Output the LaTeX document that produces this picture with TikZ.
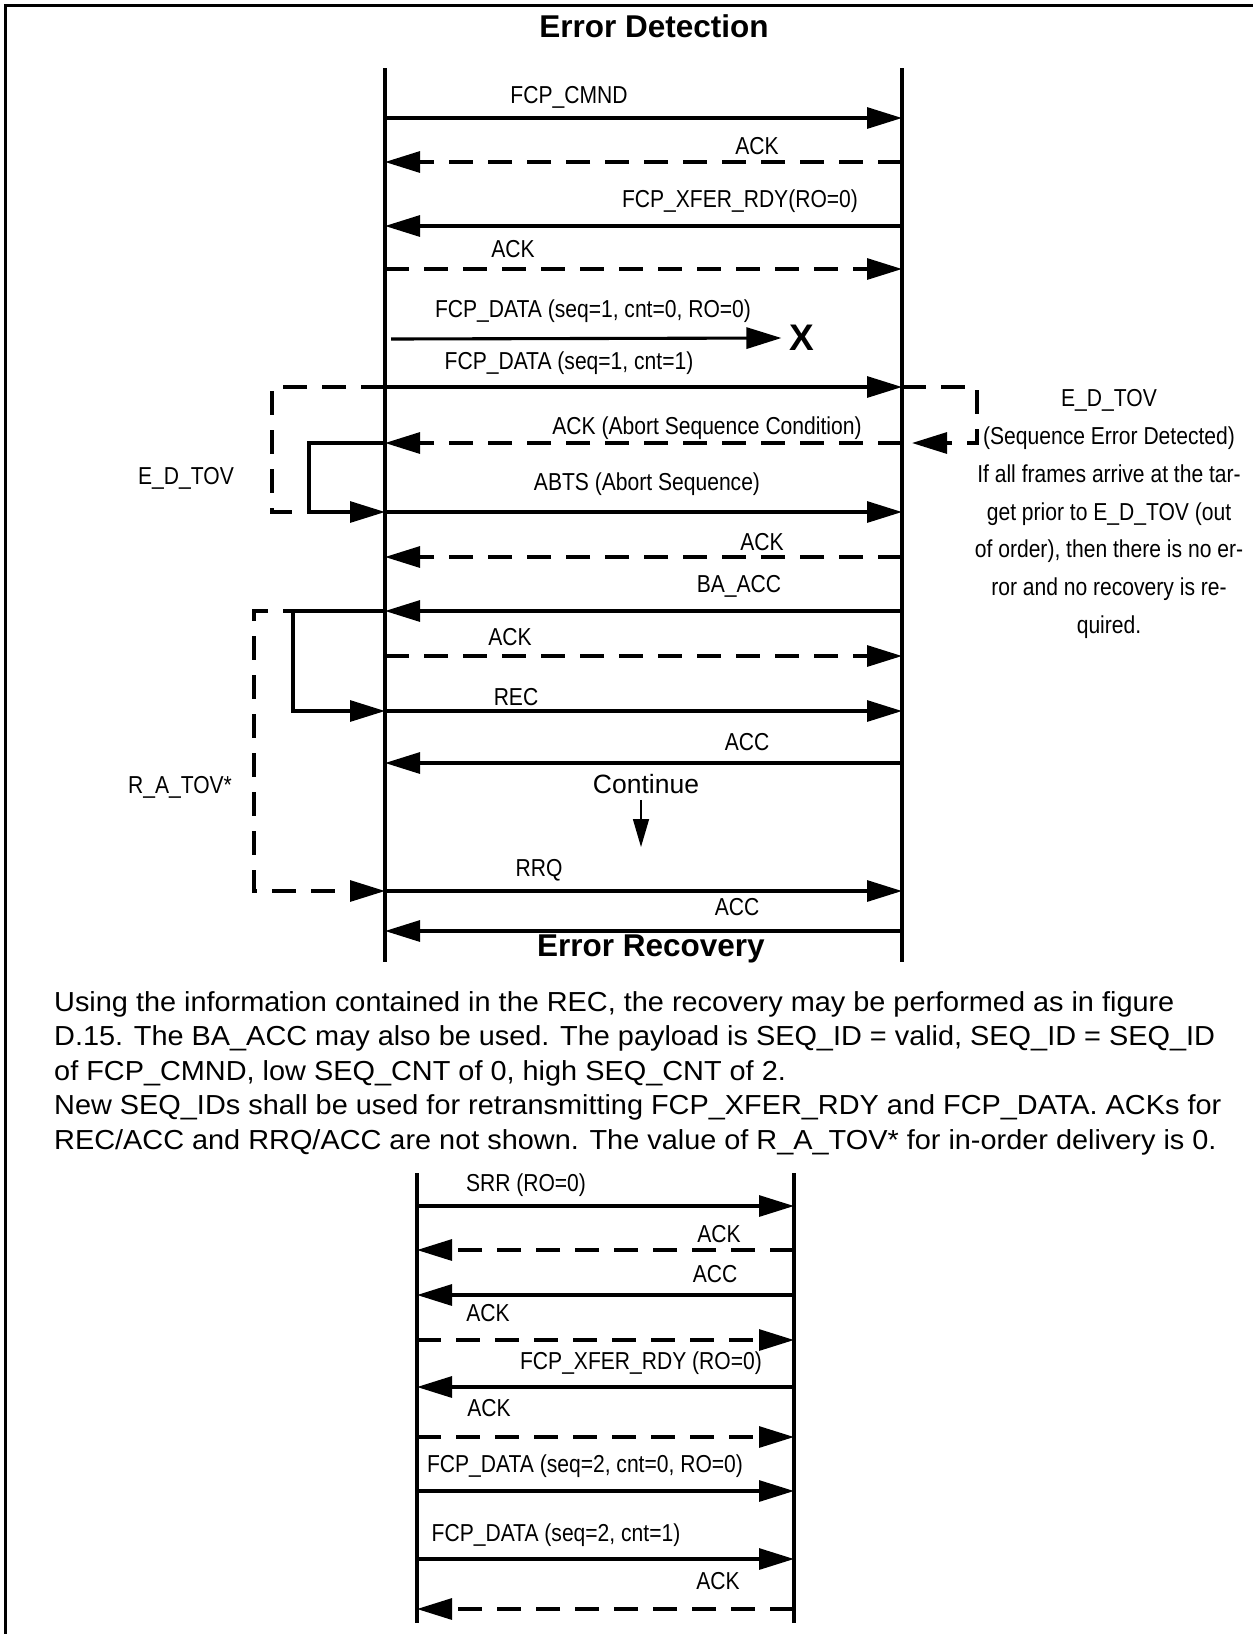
\documentclass[tikz,border=0pt]{standalone}
\usepackage{fontspec}
\setmainfont{Liberation Sans}
\newfontfamily\labfont[FakeStretch=0.86]{Liberation Sans}
\newfontfamily\bodyfont[FakeStretch=1.05]{Liberation Sans}
\usetikzlibrary{arrows.meta}

\begin{document}
\begin{tikzpicture}[
  x=1pt, y=-1pt,
  lab/.style={font=\labfont\fontsize{24.5}{29}\selectfont, inner sep=0pt},
  heading/.style={font=\bfseries\fontsize{31.5}{36}\selectfont, inner sep=0pt},
  lifeline/.style={line width=3.2pt},
  msg/.style={line width=3.1pt, -{Triangle[length=35pt,width=21pt]}},
  ackmsg/.style={msg, dash pattern=on 24pt off 15pt},
  bracket/.style={line width=3.1pt, dash pattern=on 24pt off 15pt},
  bracketarr/.style={bracket, -{Triangle[length=35pt,width=21pt]}},
  thinarr/.style={line width=1.6pt, -{Triangle[length=28pt,width=16pt]}}
]
\useasboundingbox (0,0) rectangle (1253,1634);

% =================== frame ===================
\draw[line width=3.2pt] (5.5,1634) -- (5.5,5.5) -- (1253,5.5);

% =================== error detection ===================
\node[heading] (detect) at (654,26) {Error Detection};
\coordinate (iTop) at (385,68);  \coordinate (iBot) at (385,962);
\coordinate (tTop) at (902,68);  \coordinate (tBot) at (902,962);
\draw[lifeline] (iTop) -- (iBot);
\draw[lifeline] (tTop) -- (tBot);

\foreach \n/\y in {cmnd/118, ack1/162, xrdy/226, ack2/269, data1/387, abort/443,
                   abts/512, ack3/557, baacc/611, ack4/656, rec/711, acc1/763,
                   rrq/891, acc2/931}
  {\coordinate (\n-i) at (385,\y); \coordinate (\n-t) at (902,\y);}
\coordinate (data0-i) at (391,339);

\node[lab] (l-cmnd)  at (569,97)  {FCP\_CMND};
\node[lab] (l-ack1)  at (757,146) {ACK};
\node[lab] (l-xrdy)  at (740,201) {FCP\_XFER\_RDY(RO=0)};
\node[lab] (l-ack2)  at (513,249) {ACK};
\node[lab] (l-data0) at (593,311) {FCP\_DATA (seq=1, cnt=0, RO=0)};
\node[font=\bfseries\fontsize{37}{40}\selectfont, inner sep=0pt] (lost) at (802,338) {X};
\node[lab] (l-data1) at (569,363) {FCP\_DATA (seq=1, cnt=1)};
\node[lab] (l-abort) at (707,428) {ACK (Abort Sequence Condition)};
\node[lab] (l-abts)  at (647,484) {ABTS (Abort Sequence)};
\node[lab] (l-ack3)  at (762,542) {ACK};
\node[lab] (l-baacc) at (739,586) {BA\_ACC};
\node[lab] (l-ack4)  at (510,637) {ACK};
\node[lab] (l-rec)   at (516,697) {REC};
\node[lab] (l-acc1)  at (747,742) {ACC};
\node[font=\fontsize{26.5}{30}\selectfont, inner sep=0pt] (cont) at (646,784) {Continue};
\coordinate (contend) at (641,847);
\node[lab] (l-rrq)   at (539,870) {RRQ};
\node[lab] (l-acc2)  at (737,907) {ACC};
\node[heading] (recover) at (651,949) {Error Recovery};

\draw[msg]    (cmnd-i) -- (cmnd-t);
\draw[ackmsg] (ack1-t) -- (ack1-i);
\draw[msg]    (xrdy-t) -- (xrdy-i);
\draw[ackmsg] (ack2-i) -- (ack2-t);
\draw[msg]    (data0-i) -- ([xshift=-8pt]lost.west);
\draw[msg]    (data1-i) -- (data1-t);
\draw[ackmsg] (abort-t) -- (abort-i);
\draw[msg]    (abts-i) -- (abts-t);
\draw[ackmsg] (ack3-t) -- (ack3-i);
\draw[msg]    (baacc-t) -- (baacc-i);
\draw[ackmsg] (ack4-i) -- (ack4-t);
\draw[msg]    (rec-i) -- (rec-t);
\draw[msg]    (acc1-t) -- (acc1-i);
\draw[thinarr] ([xshift=-5pt,yshift=-6pt]cont.south) -- (contend);
\draw[msg]    (rrq-i) -- (rrq-t);
\draw[msg]    (acc2-t) -- (acc2-i);

% timers
\coordinate (edl) at (272,387);  \coordinate (edloop) at (309,443);
\coordinate (ral) at (254,611);  \coordinate (raloop) at (293,611);
\coordinate (edr) at (977,387);  \coordinate (edtip) at (912,443);
\draw[bracket] (data1-i) -- (edl) |- (abts-i);
\draw[msg] (abort-i) -- (edloop) |- (abts-i);
\draw[bracketarr] (baacc-i) -- (ral) |- (rrq-i);
\draw[msg] (baacc-i) -- (raloop) |- (rec-i);
\draw[bracketarr] (data1-t) -- (edr) |- (edtip);

\node[lab] (l-edtov) at (186,478) {E\_D\_TOV};
\node[lab] (l-ratov) at (180,787) {R\_A\_TOV*};
\node[lab, font=\labfont\fontsize{24.5}{37.7}\selectfont, align=center] (ednote) at (1109,514)
  {E\_D\_TOV\\(Sequence Error Detected)\\If all frames arrive at the tar-\\get prior to E\_D\_TOV (out\\of order), then there is no er-\\ror and no recovery is re-\\quired.};

% =================== explanation ===================
\node[font=\bodyfont\fontsize{27.5}{34.5}\selectfont, align=left, anchor=north west, inner sep=0pt] (expl) at (54,991)
  {Using the information contained in the REC, the recovery may be performed as in figure\\
   D.15. The BA\_ACC may also be used. The payload is SEQ\_ID = valid, SEQ\_ID = SEQ\_ID\\
   of FCP\_CMND, low SEQ\_CNT of 0, high SEQ\_CNT of 2.\\
   New SEQ\_IDs shall be used for retransmitting FCP\_XFER\_RDY and FCP\_DATA. ACKs for\\
   REC/ACC and RRQ/ACC are not shown. The value of R\_A\_TOV* for in-order delivery is 0.};

% =================== error recovery ===================
\coordinate (jTop) at (417,1173);  \coordinate (jBot) at (417,1623);
\coordinate (uTop) at (794,1173);  \coordinate (uBot) at (794,1623);
\draw[lifeline] (jTop) -- (jBot);
\draw[lifeline] (uTop) -- (uBot);

\foreach \n/\y in {srr/1206, ack5/1250, acc3/1295, ack6/1340, xrdy2/1387,
                   ack7/1437, data2/1491, data3/1559, ack8/1609}
  {\coordinate (\n-i) at (417,\y); \coordinate (\n-t) at (794,\y);}

\node[lab] (l-srr)   at (526,1185) {SRR (RO=0)};
\node[lab] (l-ack5)  at (719,1234) {ACK};
\node[lab] (l-acc3)  at (715,1274) {ACC};
\node[lab] (l-ack6)  at (488,1313) {ACK};
\node[lab] (l-xrdy2) at (641,1363) {FCP\_XFER\_RDY (RO=0)};
\node[lab] (l-ack7)  at (489,1408) {ACK};
\node[lab] (l-data2) at (585,1466) {FCP\_DATA (seq=2, cnt=0, RO=0)};
\node[lab] (l-data3) at (556,1535) {FCP\_DATA (seq=2, cnt=1)};
\node[lab] (l-ack8)  at (718,1581) {ACK};

\draw[msg]    (srr-i) -- (srr-t);
\draw[ackmsg] (ack5-t) -- (ack5-i);
\draw[msg]    (acc3-t) -- (acc3-i);
\draw[ackmsg] (ack6-i) -- (ack6-t);
\draw[msg]    (xrdy2-t) -- (xrdy2-i);
\draw[ackmsg] (ack7-i) -- (ack7-t);
\draw[msg]    (data2-i) -- (data2-t);
\draw[msg]    (data3-i) -- (data3-t);
\draw[ackmsg] (ack8-t) -- (ack8-i);

\end{tikzpicture}
\end{document}
